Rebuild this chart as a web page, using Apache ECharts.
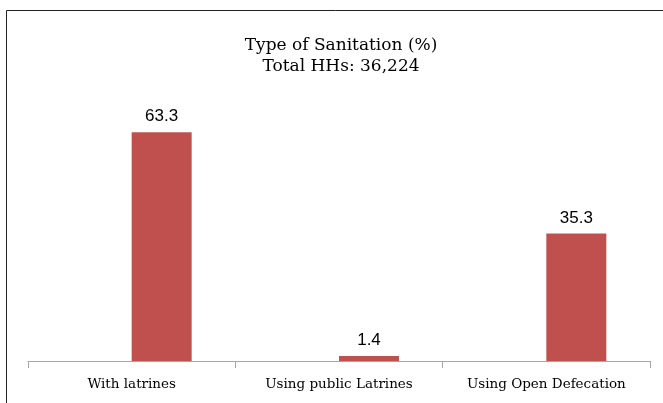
<!DOCTYPE html>
<html>
<head>
<meta charset="utf-8">
<script src="https://cdn.jsdelivr.net/npm/echarts@6/dist/echarts.min.js"></script>
<style>
html, body { margin: 0; padding: 0; background: #fff; }
#main { width: 663px; height: 403px; }
</style>
</head>
<body>
<div id="main"></div>
<script>
// chart data
var categories = ["With latrines", "Using public Latrines", "Using Open Defecation"];
var values = [63.3, 1.4, 35.3];
var titleText = "Type of Sanitation (%)";
var subText = "Total HHs: 36,224";

var myChart = echarts.init(document.getElementById("main"));

myChart.setOption({
  backgroundColor: "#fff",
  animation: false,
  title: {
    text: titleText + "\n" + subText,
    left: 336,
    textAlign: "center",
    top: 30,
    textStyle: {
      fontFamily: "DejaVu Serif",
      fontWeight: "normal",
      fontSize: 17,
      lineHeight: 21,
      color: "#000"
    }
  },
  graphic: [
    {
      type: "rect",
      shape: { x: 6.5, y: 10.5, width: 700, height: 450 },
      style: { fill: "none", stroke: "#222", lineWidth: 1 },
      silent: true
    }
  ],
  grid: { left: 28, right: 13, top: 108, bottom: 42 },
  xAxis: {
    type: "category",
    data: categories,
    axisLine: { lineStyle: { color: "#a6a6a6", width: 1 } },
    axisTick: { show: true, length: 7, lineStyle: { color: "#a6a6a6" } },
    axisLabel: {
      margin: 16,
      fontFamily: "DejaVu Serif",
      fontSize: 13.5,
      color: "#000"
    }
  },
  yAxis: {
    type: "value",
    min: 0,
    max: 70,
    show: false,
    splitLine: { show: false }
  },
  series: [
    {
      // empty slot that sits left of the visible bars
      type: "bar",
      data: [null, null, null],
      barWidth: 60,
      barGap: "0%",
      silent: true
    },
    {
      type: "bar",
      data: values,
      barWidth: 60,
      barGap: "0%",
      itemStyle: { color: "#c0504d" },
      label: {
        show: true,
        position: "top",
        distance: 7,
        fontFamily: "Liberation Sans",
        fontSize: 17,
        color: "#000"
      }
    }
  ]
});
</script>
</body>
</html>
